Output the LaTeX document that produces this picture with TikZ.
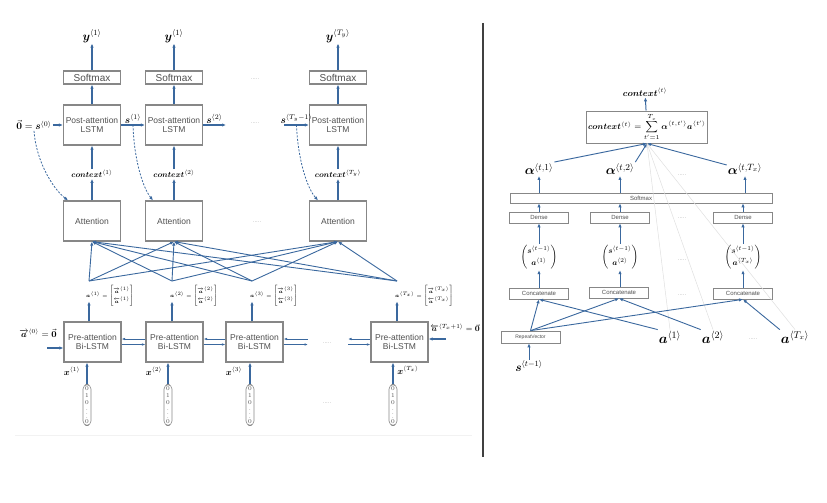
\documentclass[tikz,border=0pt]{standalone}
\usepackage{fix-cm}
\usepackage{amsmath}
\usepackage{fontspec}
\usepackage{bm}
\newfontfamily\lblfont{Liberation Sans}
\usetikzlibrary{positioning,arrows.meta}
\definecolor{arrblue}{RGB}{58,104,158}
\definecolor{boxgray}{RGB}{135,135,135}
\definecolor{txtgray}{RGB}{80,80,80}
\newcommand{\agl}[1]{\langle #1\rangle}
\newcommand{\fsz}[1]{\fontsize{#1}{#1}\selectfont}
\newcommand{\avec}[1]{\renewcommand{\arraystretch}{2}\begin{bmatrix}\overrightarrow{\bm a}^{\agl{#1}}\\ \overleftarrow{\bm a}^{\agl{#1}}\end{bmatrix}}

\begin{document}
\begin{tikzpicture}[
        x=1pt, y=-1pt,
        box/.style={draw=boxgray, line width=1.2pt, fill=white, minimum width=57pt,
                    align=center, inner sep=1pt, text=txtgray, font=\lblfont\fsz{8.5}},
        smbox/.style={box, minimum height=13pt, font=\lblfont\fsz{10}},
        lstmbox/.style={box, minimum height=40pt},
        layer/.style={draw=boxgray, line width=0.7pt, fill=white, minimum width=59pt,
                      minimum height=11pt, inner sep=0pt, text=txtgray, font=\lblfont\fsz{6}},
        sumbox/.style={draw=boxgray, line width=1pt, fill=white, minimum width=114pt,
                       minimum height=32pt, inner sep=2pt, font=\fsz{8.5}},
        onehot/.style={draw=boxgray, line width=0.6pt, rounded corners=4.5pt, inner sep=1.5pt,
                       align=center, text=txtgray, font=\fsz{6}, text width=5pt},
        arr/.style={-{Latex[length=4pt,width=3.4pt]}, draw=arrblue, line width=1.2pt},
        biarr/.style={arr, -{Latex[length=3.5pt,width=2.6pt]}, line width=1pt},
        thinarr/.style={arr, line width=0.9pt},
        dasharr/.style={arr, line width=0.8pt, dash pattern=on 2pt off 1.5pt},
        mlab/.style={inner sep=1pt, font=\fsz{11}},
        ctxlab/.style={inner sep=1pt, font=\fsz{8}},
        alab/.style={inner sep=0pt, anchor=west, font=\fsz{5}},
        ellip/.style={text=gray!60, font=\lblfont\fsz{6}},
        faint/.style={draw=gray!25, line width=0.5pt}
    ]
    \useasboundingbox (0,0) rectangle (827,503);

    % ---- left: encoder / decoder ----
    \node[smbox] (sm1) at (92,77.5)  {Softmax};
    \node[smbox] (sm2) at (174,77.5) {Softmax};
    \node[smbox] (sm3) at (338,77.5) {Softmax};

    \node[mlab, font=\fsz{12}] (y1) at (92,36)  {$\bm y^{\agl{1}}$};
    \node[mlab, font=\fsz{12}] (y2) at (174,36) {$\bm y^{\agl{1}}$};
    \node[mlab, font=\fsz{12}] (y3) at (338,36) {$\bm y^{\agl{T_y}}$};

    \node[lstmbox] (post1) at (92,125)  {Post-attention\\LSTM};
    \node[lstmbox] (post2) at (174,125) {Post-attention\\LSTM};
    \node[lstmbox] (post3) at (338,125) {Post-attention\\LSTM};

    \node[ctxlab] (ctx1) at (92,174)  {$\bm{context}^{\agl{1}}$};
    \node[ctxlab] (ctx2) at (174,174) {$\bm{context}^{\agl{2}}$};
    \node[ctxlab] (ctx3) at (338,174) {$\bm{context}^{\agl{T_y}}$};

    \node[lstmbox] (att1) at (92,221)  {Attention};
    \node[lstmbox] (att2) at (174,221) {Attention};
    \node[lstmbox] (att3) at (338,221) {Attention};

    \node[ellip] at (255,79)  {.....};
    \node[ellip] at (255,123) {.....};
    \node[ellip] at (257,222) {.....};

    \draw[arr] (sm1) -- (y1);
    \draw[arr] (sm2) -- (y2);
    \draw[arr] (sm3) -- (y3);
    \draw[arr] (post1) -- (sm1);
    \draw[arr] (post2) -- (sm2);
    \draw[arr] (post3) -- (sm3);
    \draw[arr] (ctx1) -- (post1);
    \draw[arr] (ctx2) -- (post2);
    \draw[arr] (ctx3) -- (post3);
    \draw[arr] (att1) -- (ctx1);
    \draw[arr] (att2) -- (ctx2);
    \draw[arr] (att3) -- (ctx3);

    \node[mlab, font=\fsz{10}] (s0) at (34,125) {$\vec{\bm 0}=\bm s^{\agl{0}}$};
    \coordinate (p2out) at (226,125);
    \coordinate (p3in)  at (284,125);
    \draw[arr] (s0) -- (post1);
    \draw[arr] (post1) -- node[mlab, font=\fsz{10}, above] (s1) {$\bm s^{\agl{1}}$} (post2);
    \draw[arr] (post2) -- node[mlab, font=\fsz{10}, above] (s2) {$\bm s^{\agl{2}}$} (p2out);
    \draw[arr] (p3in) -- node[mlab, font=\fsz{10}, above] (s3) {$\bm s^{\agl{T_y-1}}$} (post3);

    \draw[dasharr] (s0.south) .. controls (36,160) and (52,188) .. ([xshift=-24pt]att1.north);
    \draw[dasharr] (s1.south) .. controls (134,160) and (143,188) .. ([xshift=-21pt]att2.north);
    \draw[dasharr] (s3.south) .. controls (298,160) and (307,188) .. ([xshift=-20pt]att3.north);

    % pre-attention Bi-LSTM
    \node[lstmbox] (pre1) at (92.5,342)  {Pre-attention\\Bi-LSTM};
    \node[lstmbox] (pre2) at (174.5,342) {Pre-attention\\Bi-LSTM};
    \node[lstmbox] (pre3) at (254.5,342) {Pre-attention\\Bi-LSTM};
    \node[lstmbox] (pre4) at (399.5,342) {Pre-attention\\Bi-LSTM};

    \coordinate (h1) at (89,281);
    \coordinate (h2) at (172,281);
    \coordinate (h3) at (252,281);
    \coordinate (h4) at (397,281);

    \path (h1) edge[thinarr] (att1.south) edge[thinarr] (att2.south) edge[thinarr] (att3.south);
    \path (h2) edge[thinarr] (att1.south) edge[thinarr] (att2.south) edge[thinarr] (att3.south);
    \path (h3) edge[thinarr] (att1.south) edge[thinarr] (att2.south) edge[thinarr] (att3.south);
    \path (h4) edge[thinarr] (att1.south) edge[thinarr] (att2.south) edge[thinarr] (att3.south);

    \node[alab] (ha1) at (86,296)  {$\bm a^{\agl{1}}=\avec{1}$};
    \node[alab] (ha2) at (170,296) {$\bm a^{\agl{2}}=\avec{2}$};
    \node[alab] (ha3) at (250,296) {$\bm a^{\agl{3}}=\avec{3}$};
    \node[alab] (ha4) at (395,296) {$\bm a^{\agl{T_x}}=\avec{T_x}$};

    \draw[arr] (pre1.north -| h1) -- ++(0,-20);
    \draw[arr] (pre2.north -| h2) -- ++(0,-20);
    \draw[arr] (pre3.north -| h3) -- ++(0,-20);
    \draw[arr] (pre4.north -| h4) -- ++(0,-20);

    \draw[biarr] ([yshift=3pt]pre2.west) -- ([yshift=3pt]pre1.east);
    \draw[biarr] ([yshift=-2.5pt]pre1.east) -- ([yshift=-2.5pt]pre2.west);
    \draw[biarr] ([yshift=3pt]pre3.west) -- ([yshift=3pt]pre2.east);
    \draw[biarr] ([yshift=-2.5pt]pre2.east) -- ([yshift=-2.5pt]pre3.west);
    \coordinate (r3) at (308,342);
    \coordinate (l4) at (348,342);
    \draw[biarr] ([yshift=3pt]r3) -- ([yshift=3pt]pre3.east);
    \draw[biarr] ([yshift=-2.5pt]pre3.east) -- ([yshift=-2.5pt]r3);
    \draw[biarr] ([yshift=3pt]pre4.west) -- ([yshift=3pt]l4);
    \draw[biarr] ([yshift=-2.5pt]l4) -- ([yshift=-2.5pt]pre4.west);
    \node[ellip] at (327,343) {.....};

    \node[mlab, font=\fsz{9}] (a0) at (38,333) {$\overrightarrow{\bm a}^{\agl{0}}=\vec{\bm 0}$};
    \coordinate (a0in) at (47,348);
    \draw[arr] (a0in) -- ([yshift=-6pt]pre1.west);
    \node[mlab, font=\fsz{8}] (aT) at (455,328) {$\overleftarrow{\bm a}^{\agl{T_x+1}}=\vec{\bm 0}$};
    \coordinate (aTin) at (446,339);
    \draw[arr] (aTin) -- ([yshift=3pt]pre4.east);

    \node[onehot] (oh1) at (87,405)  {0\\[1pt]1\\[1pt]0\\[-1.5pt]$\vdots$\\[-0.5pt]0};
    \node[onehot] (oh2) at (168,405) {0\\[1pt]1\\[1pt]0\\[-1.5pt]$\vdots$\\[-0.5pt]0};
    \node[onehot] (oh3) at (250,405) {0\\[1pt]1\\[1pt]0\\[-1.5pt]$\vdots$\\[-0.5pt]0};
    \node[onehot] (oh4) at (393,405) {0\\[1pt]1\\[1pt]0\\[-1.5pt]$\vdots$\\[-0.5pt]0};
    \node[ellip] at (327,403) {.....};

    \draw[arr] (oh1) -- (oh1 |- pre1.south);
    \draw[arr] (oh2) -- (oh2 |- pre2.south);
    \draw[arr] (oh3) -- (oh3 |- pre3.south);
    \draw[arr] (oh4) -- (oh4 |- pre4.south);

    \node[mlab, font=\fsz{9}] (x1) at (72,371)  {$\bm x^{\agl{1}}$};
    \node[mlab, font=\fsz{9}] (x2) at (154,371) {$\bm x^{\agl{2}}$};
    \node[mlab, font=\fsz{9}] (x3) at (234,371) {$\bm x^{\agl{3}}$};
    \node[mlab, font=\fsz{9}] (x4) at (408,370) {$\bm x^{\agl{T_x}}$};

    \draw[black!5, line width=1pt] (15,435) -- (472,435);

    % divider
    \draw[black!75, line width=1.4pt] (483,23) -- (483,457);

    % ---- right: one attention step ----
    \node[ctxlab, font=\fsz{9}] (ctxt) at (645,92) {$\bm{context}^{\agl{t}}$};
    \node[sumbox] (sum) at (647,127) {$\bm{context}^{\agl{t}}=\displaystyle\sum_{t'=1}^{T_x}\bm\alpha^{\agl{t,t'}}\bm a^{\agl{t'}}$};
    \draw[arr, line width=1pt] (sum) -- (ctxt);

    \node[mlab, font=\fsz{13}] (al1) at (539,169) {$\bm\alpha^{\agl{t,1}}$};
    \node[mlab, font=\fsz{13}] (al2) at (620,169) {$\bm\alpha^{\agl{t,2}}$};
    \node[mlab, font=\fsz{13}] (al3) at (745,169) {$\bm\alpha^{\agl{t,T_x}}$};
    \node[ellip] at (682,175) {.....};

    \node[layer, minimum width=262pt, minimum height=10pt] (smx) at (641,198) {Softmax};

    \node[layer] (dn1) at (539,217.5) {Dense};
    \node[layer] (dn2) at (620,217.5) {Dense};
    \node[layer] (dn3) at (743,217.5) {Dense};
    \node[ellip] at (682,218) {.....};

    \node[ctxlab] (vc1) at (539,257) {$\begin{pmatrix}\bm s^{\agl{t-1}}\\[2pt] \bm a^{\agl{1}}\end{pmatrix}$};
    \node[ctxlab] (vc2) at (620,257) {$\begin{pmatrix}\bm s^{\agl{t-1}}\\[2pt] \bm a^{\agl{2}}\end{pmatrix}$};
    \node[ctxlab] (vc3) at (743,257) {$\begin{pmatrix}\bm s^{\agl{t-1}}\\[2pt] \bm a^{\agl{T_x}}\end{pmatrix}$};
    \node[ellip] at (682,260) {.....};

    \node[layer] (cc1) at (539,293.5) {Concatenate};
    \node[layer] (cc2) at (619,292.5) {Concatenate};
    \node[layer] (cc3) at (743,293.5) {Concatenate};
    \node[ellip] at (682,295) {.....};

    \node[layer, font=\lblfont\fsz{5}, minimum height=12pt] (rv) at (530.5,337) {RepeatVector};
    \node[mlab, font=\fsz{12}] (sl) at (529,366) {$\bm s^{\agl{t-1}}$};

    \node[mlab, font=\fsz{14}] (ab1) at (670,337) {$\bm a^{\agl{1}}$};
    \node[mlab, font=\fsz{14}] (ab2) at (713,337) {$\bm a^{\agl{2}}$};
    \node[mlab, font=\fsz{14}] (ab3) at (795,337) {$\bm a^{\agl{T_x}}$};
    \node[ellip] at (753,339) {.....};

    \draw[faint] (sum.south) -- (ab1.north);
    \draw[faint] (sum.south) -- (ab2.north);
    \draw[faint] (sum.south) -- (ab3.north);

    \draw[thinarr] (al1.north east) -- (sum.south);
    \draw[thinarr] (al2.north east) -- (sum.south);
    \draw[thinarr] ([yshift=4pt]al3.west) -- (sum.south);

    \draw[thinarr] (smx.north -| al1) -- (al1);
    \draw[thinarr] (smx.north -| al2) -- (al2);
    \draw[thinarr] (smx.north -| al3) -- (al3);
    \draw[thinarr] (dn1) -- (dn1 |- smx.south);
    \draw[thinarr] (dn2) -- (dn2 |- smx.south);
    \draw[thinarr] (dn3) -- (dn3 |- smx.south);
    \draw[thinarr] (vc1) -- (dn1);
    \draw[thinarr] (vc2) -- (dn2);
    \draw[thinarr] (vc3) -- (dn3);
    \draw[thinarr] (cc1) -- (vc1);
    \draw[thinarr] (cc2.north -| vc2) -- (vc2);
    \draw[thinarr] (cc3) -- (vc3);

    \draw[thinarr] (sl) -- (sl |- rv.south);
    \path (rv.north) edge[thinarr] (cc1.south) edge[thinarr] (cc2.south) edge[thinarr] (cc3.south);
    \draw[thinarr] (ab1.north west) -- (cc1.south);
    \draw[thinarr] (ab2.north west) -- (cc2.south);
    \draw[thinarr] (ab3.north west) -- (cc3.south);
\end{tikzpicture}
\end{document}
